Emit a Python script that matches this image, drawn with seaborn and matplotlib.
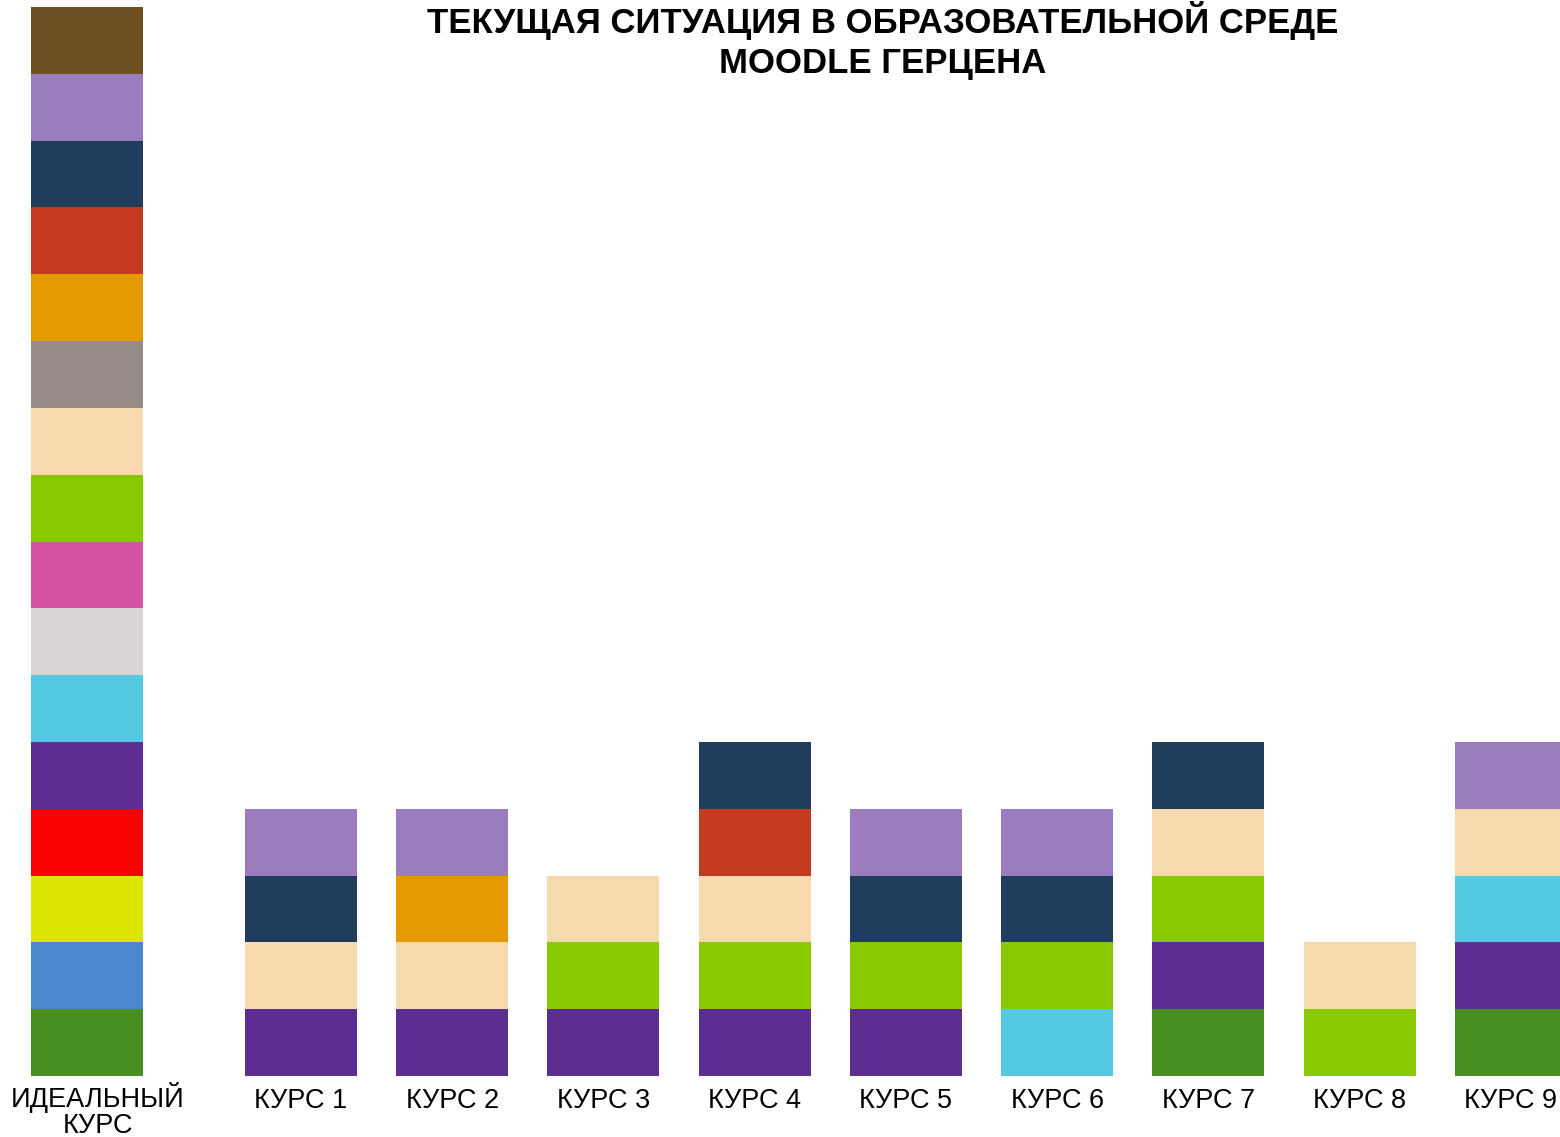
import matplotlib
matplotlib.use("Agg")
import matplotlib.pyplot as plt
import matplotlib.transforms as mtransforms
import seaborn as sns
import pandas as pd

# ---------------- data ----------------
title_text = "ТЕКУЩАЯ СИТУАЦИЯ В ОБРАЗОВАТЕЛЬНОЙ СРЕДЕ\nMOODLE ГЕРЦЕНА"

course_labels = ["ИДЕАЛЬНЫЙ\nКУРС", "КУРС 1", "КУРС 2", "КУРС 3", "КУРС 4",
                 "КУРС 5", "КУРС 6", "КУРС 7", "КУРС 8", "КУРС 9"]

component_colors = {
    "green": "#478F21",
    "blue": "#4B87CF",
    "yellow": "#DDE600",
    "red": "#F80000",
    "purple": "#5E2D91",
    "cyan": "#55C9E2",
    "lightgray": "#DAD5D5",
    "pink": "#D553A3",
    "lime": "#88C900",
    "peach": "#F7D9AE",
    "gray": "#968B86",
    "orange": "#E59A00",
    "rust": "#C43A20",
    "navy": "#203D5E",
    "lavender": "#9B7CBF",
    "brown": "#6F5023",
    "empty": "#FFFFFF",
}

# stacks listed bottom -> top, one unit per element
ideal_stack = ["green", "blue", "yellow", "red", "purple", "cyan", "lightgray",
               "pink", "lime", "peach", "gray", "orange", "rust", "navy",
               "lavender", "brown"]
course1_stack = ["purple", "peach", "navy", "lavender"]
course2_stack = ["purple", "peach", "orange", "lavender"]
course3_stack = ["purple", "lime", "peach"]
course4_stack = ["purple", "lime", "peach", "rust", "navy"]
course5_stack = ["purple", "lime", "navy", "lavender"]
course6_stack = ["cyan", "lime", "navy", "lavender"]
course7_stack = ["green", "purple", "lime", "peach", "navy"]
course8_stack = ["lime", "peach"]
course9_stack = ["green", "purple", "cyan", "peach", "lavender"]

stacks = [ideal_stack, course1_stack, course2_stack, course3_stack,
          course4_stack, course5_stack, course6_stack, course7_stack,
          course8_stack, course9_stack]

# ---------------- layout ----------------
ideal_gap = 1.415
positions = [0.0] + [ideal_gap + i for i in range(len(course_labels) - 1)]
n_levels = max(len(s) for s in stacks)

rows = []
for lbl, pos, stack in zip(course_labels, positions, stacks):
    for lvl in range(n_levels):
        if lvl < len(stack):
            rows.append(dict(course=lbl, pos=pos, level=lvl,
                             component=stack[lvl], value=1))
        else:
            rows.append(dict(course=lbl, pos=pos, level=lvl,
                             component="empty", value=0))
df = pd.DataFrame(rows)

sns.set_style("white")
plt.rcParams["font.family"] = ["Liberation Sans", "DejaVu Sans"]
plt.rcParams["text.color"] = "black"
plt.rcParams["xtick.color"] = "black"

fig = plt.figure(figsize=(15.6, 11.37), dpi=100)
ax = fig.add_axes([0.0, (1137 - 1076) / 1137, 1.0, (1076 - 7) / 1137])

for lvl in range(n_levels):
    sub = df[df["level"] == lvl]
    sns.barplot(data=sub, x="pos", y="value", hue="component",
                palette=component_colors, native_scale=True, dodge=False,
                width=0.74, errorbar=None, legend=False, linewidth=0,
                saturation=1, bottom=lvl, ax=ax)

ax.set_xlim(-0.575, 9.74)
ax.set_ylim(0, n_levels)
ax.set_xticks(positions)
ax.set_xticklabels(course_labels, fontsize=19.5, color="black")
ax.tick_params(axis="x", length=0, pad=8.5, colors="black")
ax.set_yticks([])
ax.set_xlabel("")
ax.set_ylabel("")
for sp in ax.spines.values():
    sp.set_visible(False)

lab0 = ax.get_xticklabels()[0]
lab0.set_linespacing(1.0)
lab0.set_transform(lab0.get_transform() +
                   mtransforms.ScaledTranslation(11 / 100, 6 / 100,
                                                 fig.dpi_scale_trans))

fig.text(883 / 1560, 1 - 1 / 1137, title_text, ha="center", va="top",
         fontsize=25, fontweight="bold", linespacing=1.25, color="black")

fig.savefig("out.png", dpi=100)
